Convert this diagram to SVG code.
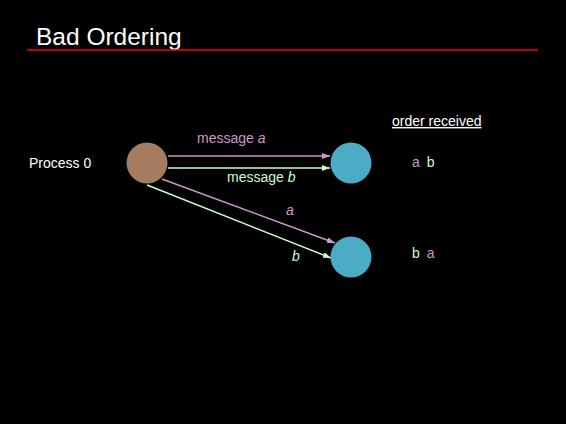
<svg xmlns="http://www.w3.org/2000/svg" width="566" height="424" viewBox="0 0 566 424">
<style>
text{font-family:"Liberation Sans",Arial,sans-serif;font-size:14px}
.w{fill:#FFFFFF}
.p{fill:#CC99CC}
.g{fill:#CCFFCC}
.i{font-style:italic}
.lp{stroke:#CC99CC;stroke-width:1.5;fill:none}
.lg{stroke:#CCFFCC;stroke-width:1.5;fill:none}
.dst{fill:#4BACC6}
</style>
<defs>
<marker id="ap" viewBox="0 0 8 6" refX="8" refY="3" markerWidth="8" markerHeight="6" markerUnits="userSpaceOnUse" orient="auto"><path d="M0,0 L8,3 L0,6 Z" fill="#CC99CC"/></marker>
<marker id="ag" viewBox="0 0 8 6" refX="8" refY="3" markerWidth="8" markerHeight="6" markerUnits="userSpaceOnUse" orient="auto"><path d="M0,0 L8,3 L0,6 Z" fill="#CCFFCC"/></marker>
</defs>
<rect width="566" height="424" fill="#000000"/>
<g id="title">
<text x="36" y="45" class="w" style="font-size:24.5px">Bad Ordering</text>
<line x1="27" y1="50" x2="538" y2="50" stroke="#FF0000" stroke-width="1.5"/>
</g>
<g id="connectors">
<line class="lp" x1="168" y1="156" x2="330" y2="156" marker-end="url(#ap)"/>
<line class="lg" x1="168" y1="168" x2="330" y2="168" marker-end="url(#ag)"/>
<line class="lp" x1="162" y1="179" x2="335" y2="243" marker-end="url(#ap)"/>
<line class="lg" x1="147" y1="185" x2="331" y2="258" marker-end="url(#ag)"/>
<text x="197" y="143" class="p">message <tspan class="i">a</tspan></text>
<text x="227" y="182" class="g">message <tspan class="i">b</tspan></text>
<text x="286" y="215" class="p i">a</text>
<text x="292" y="261" class="g i">b</text>
</g>
<g id="process0">
<circle cx="147" cy="163" r="20.5" fill="#A67C60"/>
<text x="29" y="168" class="w">Process 0</text>
</g>
<g id="receiver1">
<circle class="dst" cx="351" cy="163" r="20.5"/>
</g>
<g id="receiver2">
<circle class="dst" cx="351" cy="257" r="20.5"/>
</g>
<g id="order">
<text x="392" y="126" class="w" text-decoration="underline">order received</text>
<text x="412" y="167"><tspan class="p">a</tspan><tspan class="g" dx="7">b</tspan></text>
<text x="412" y="258"><tspan class="g">b</tspan><tspan class="p" dx="7">a</tspan></text>
</g>
</svg>
